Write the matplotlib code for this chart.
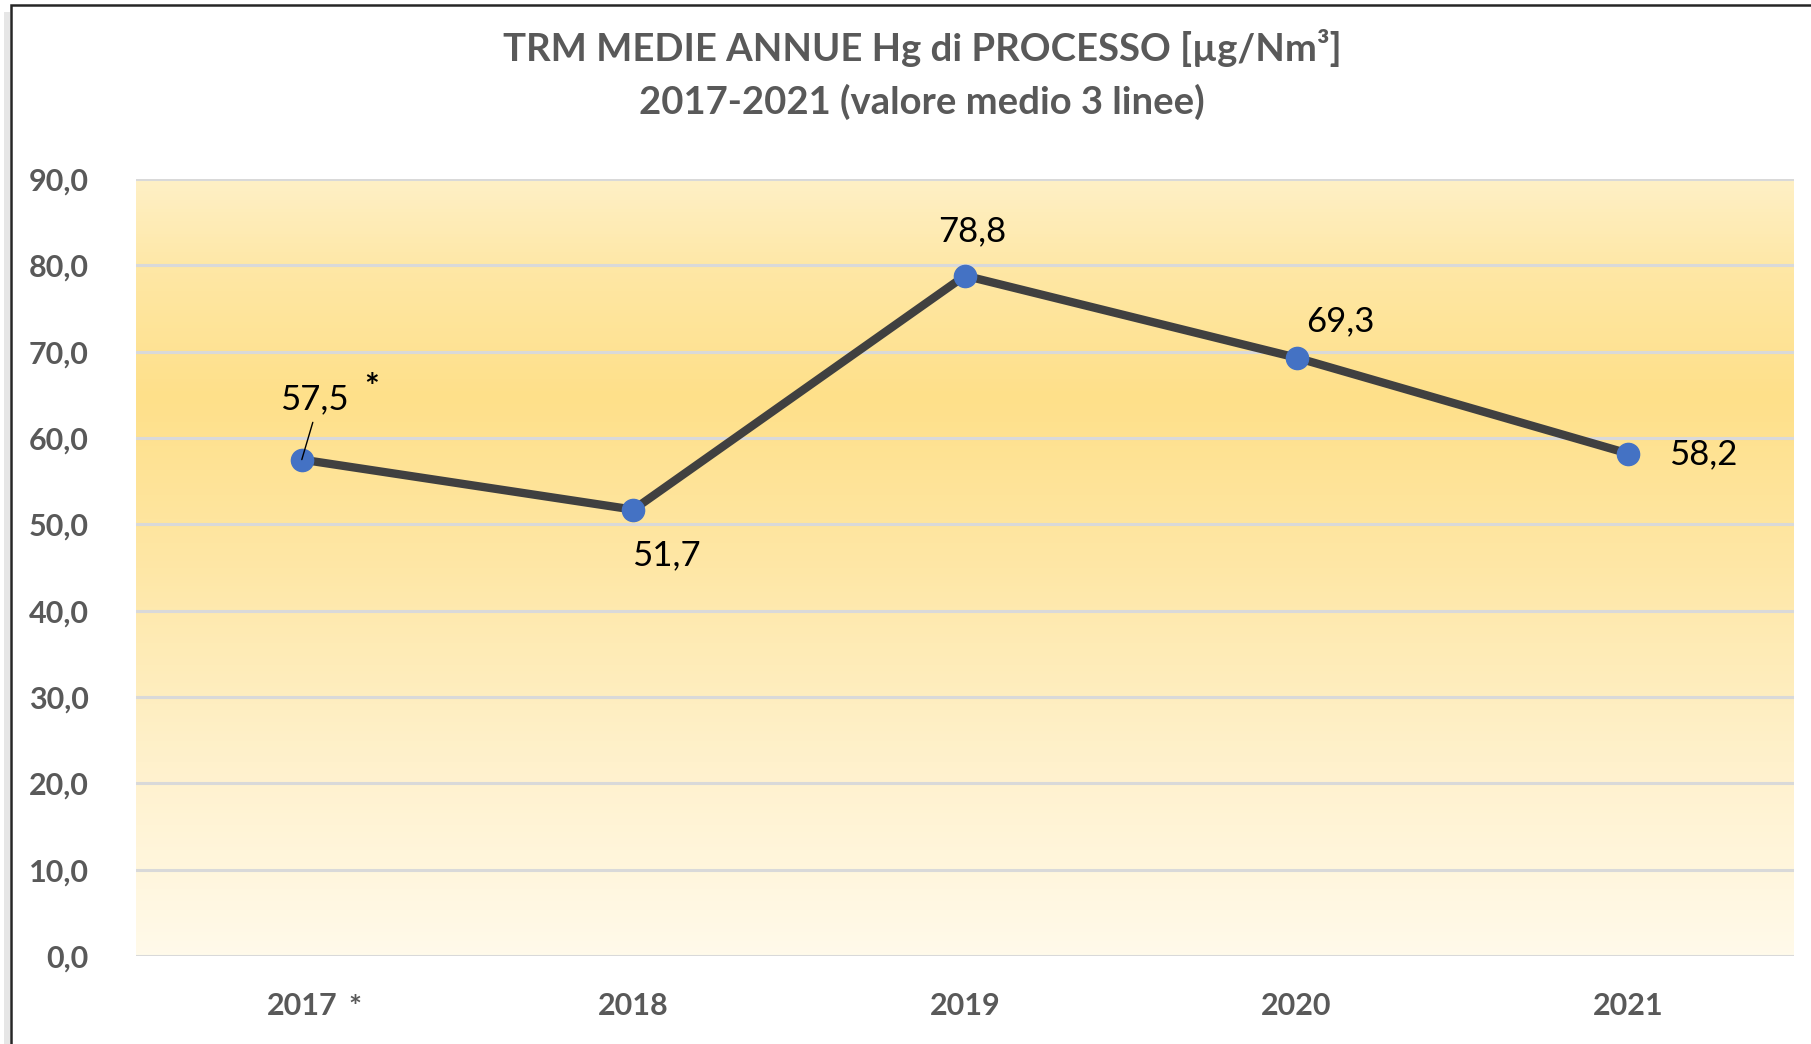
import numpy as np
import matplotlib
matplotlib.use("Agg")
import matplotlib.pyplot as plt
from matplotlib.colors import LinearSegmentedColormap
from matplotlib.patches import Rectangle

years = ['2017', '2018', '2019', '2020', '2021']
values = [57.5, 51.7, 78.8, 69.3, 58.2]
value_labels = ['57,5', '51,7', '78,8', '69,3', '58,2']
# label offsets in pixels from each point
label_offsets = [(13, 60), (33, -46), (7, 44), (44, 36), (75, -1)]
yticks = np.arange(0, 91, 10)

plt.rcParams['font.family'] = ['Lato', 'DejaVu Sans']

fig = plt.figure(figsize=(18.11, 10.44), dpi=100)
W, H = 1811., 1044.
ax = fig.add_axes([136 / W, 1 - 956 / H, (1794 - 136) / W, (956 - 179) / H])

x = np.arange(len(years))
ax.set_xlim(-0.5, len(years) - 0.5)
ax.set_ylim(0, 90)

# gradient background
cmap = LinearSegmentedColormap.from_list('bg', [
    (0.0, '#FFFAEA'), (0.25, '#FFF1CC'), (0.5, '#FEE7A6'),
    (0.72, '#FFE08A'), (0.88, '#FEE7A4'), (1.0, '#FEF0C6')])
grad = np.linspace(0, 1, 256).reshape(-1, 1)
ax.imshow(grad, cmap=cmap, origin='lower', aspect='auto',
          extent=(-0.5, len(years) - 0.5, 0, 90), zorder=0)

for yv in yticks:
    ax.axhline(yv, color='#D9D9D9', lw=2.2, zorder=1)

ax.plot(x, values, color='#404040', lw=6, zorder=3, solid_capstyle='round')
ax.plot(x, values, 'o', color='#4472C4', ms=16, zorder=4)

for i, (v, lab) in enumerate(zip(values, value_labels)):
    dx, dy = label_offsets[i]
    if i == 0:
        ax.annotate(lab, (x[i], v), xytext=(dx, dy), textcoords='offset pixels',
                    ha='center', va='center', fontsize=25, color='black',
                    arrowprops=dict(arrowstyle='-', color='black', lw=1,
                                    shrinkA=3, shrinkB=0,
                                    relpos=(0.5, 0.0)), zorder=5)
        ax.annotate('*', (x[i], v), xytext=(70, 72), textcoords='offset pixels',
                    ha='center', va='center', fontsize=25, color='black', fontweight='bold')
    else:
        ax.annotate(lab, (x[i], v), xytext=(dx, dy), textcoords='offset pixels',
                    ha='center', va='center', fontsize=25, color='black', zorder=5)

ax.set_xticks(x)
ax.set_xticklabels(years, fontsize=22, fontweight='bold', color='#595959')
ax.set_yticks(yticks)
ax.set_yticklabels([('%.1f' % t).replace('.', ',') for t in yticks],
                   fontsize=22, fontweight='bold', color='#595959')
ax.tick_params(length=0, pad=34, axis='y')
ax.tick_params(length=0, pad=26, axis='x')
ax.annotate('*', (0, 0), xycoords=('data', 'axes fraction'), xytext=(53, -52),
            textcoords='offset pixels', ha='center', va='center', fontsize=22,
            fontweight='bold', color='#595959')
for s in ax.spines.values():
    s.set_visible(False)

fig.text(922 / W, 1 - 48 / H, 'TRM MEDIE ANNUE Hg di PROCESSO [µg/Nm³]',
         ha='center', va='center', fontsize=27.5, fontweight='bold', color='#595959')
fig.text(922 / W, 1 - 102 / H, '2017-2021 (valore medio 3 linee)',
         ha='center', va='center', fontsize=27.5, fontweight='bold', color='#595959')

# outer frame
fig.patches.append(Rectangle((11 / W, -0.1), 1.2, 1.1 - 5 / H, transform=fig.transFigure,
                             fill=False, edgecolor='#262626', lw=1.8))
fig.patches.append(Rectangle((4 / W, -0.1), 6 / W, 1.1 - 12 / H, transform=fig.transFigure,
                             facecolor='#E6E6E6', edgecolor='none'))

fig.savefig('out.png', dpi=100)
